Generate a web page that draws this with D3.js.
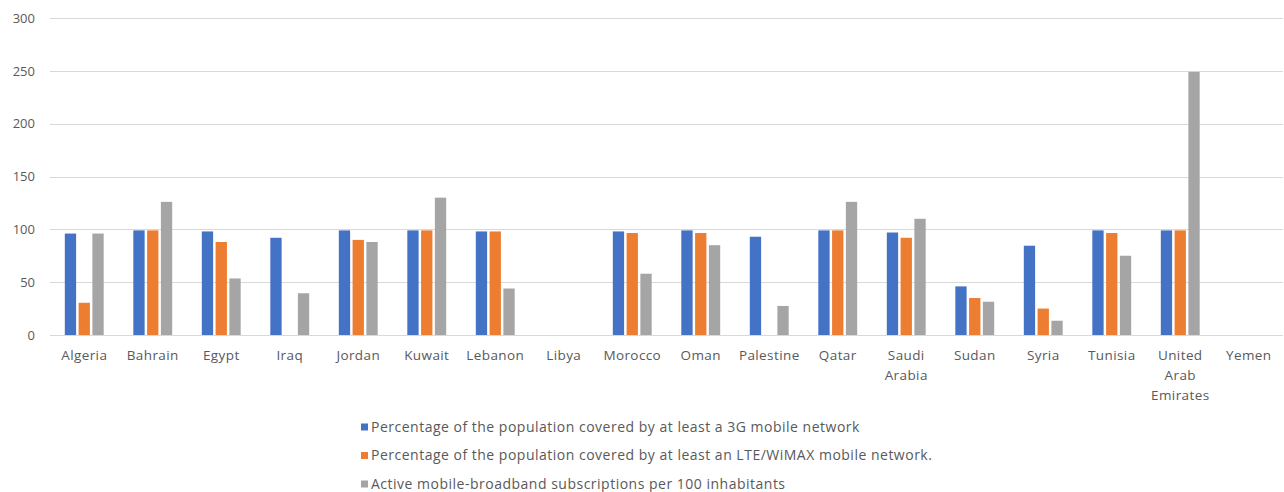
<!DOCTYPE html>
<html>
<head>
<meta charset="utf-8">
<script src="https://cdn.jsdelivr.net/npm/d3@7"></script>
<style>
  body { margin: 0; background: #fff; }
  svg { font-family: "Open Sans", Lato, sans-serif; }
</style>
</head>
<body>
<div id="chart"></div>
<script>
// categories and series
const countries = ["Algeria", "Bahrain", "Egypt", "Iraq", "Jordan", "Kuwait", "Lebanon", "Libya", "Morocco", "Oman",
  "Palestine", "Qatar", "Saudi Arabia", "Sudan", "Syria", "Tunisia", "United Arab Emirates", "Yemen"];
const cover3G = [96, 99, 98, 92, 99, 99, 98, 0, 98, 99, 93, 99, 97, 46, 84.5, 99, 99, 0];
const coverLTE = [30.5, 99, 88, 0, 90, 99, 98, 0, 96.5, 96.5, 0, 99, 92, 35, 25, 96.5, 99, 0];
const activeMB = [96, 126, 53.5, 39.5, 88, 130, 44, 0, 58, 85, 27.5, 126, 110, 31.5, 13.5, 75, 249, 0];
const seriesNames = [
  "Percentage of the population covered by at least a 3G mobile network",
  "Percentage of the population covered by at least an LTE/WiMAX mobile network.",
  "Active mobile-broadband subscriptions per 100 inhabitants"
];
const colors = ["#4472c4", "#ed7d31", "#a5a5a5"];
const yTicks = [0, 50, 100, 150, 200, 250, 300];

const W = 1284, H = 492;
const margin = { left: 50, right: 1, top: 18, bottom: 157 };

const svg = d3.select("#chart").append("svg").attr("width", W).attr("height", H);

const x0 = d3.scaleBand().domain(countries).range([margin.left, W - margin.right]).paddingInner(0.36).paddingOuter(0.18);
const keys = [0, 1, 2];
const x1 = d3.scaleBand().domain(keys).range([0, x0.bandwidth()]).padding(0.18);
const y = d3.scaleLinear().domain([0, 300]).range([H - margin.bottom, margin.top]);

// gridlines
svg.append("g").selectAll("line").data(yTicks).join("line")
  .attr("x1", margin.left).attr("x2", W - margin.right)
  .attr("y1", d => Math.round(y(d)) + 0.5).attr("y2", d => Math.round(y(d)) + 0.5)
  .attr("stroke", "#d9d9d9").attr("stroke-width", 1);

// y axis labels
const yAxis = d3.axisLeft(y).tickValues(yTicks).tickSize(0).tickPadding(0);
svg.append("g").attr("transform", `translate(${margin.left - 15},0)`).call(yAxis)
  .call(g => g.select(".domain").remove())
  .selectAll("text").attr("fill", "#595959").style("font-size", "13px")
  .style("font-family", "'Open Sans', sans-serif");

// bars
const data = countries.map((c, i) => ({ c, v: [cover3G[i], coverLTE[i], activeMB[i]] }));
svg.append("g").selectAll("g").data(data).join("g")
  .attr("transform", d => `translate(${x0(d.c)},0)`)
  .selectAll("rect").data(d => d.v.map((v, k) => ({ k, v }))).join("rect")
  .attr("x", d => x1(d.k)).attr("width", x1.bandwidth())
  .attr("y", d => y(d.v)).attr("height", d => y(0) - y(d.v))
  .attr("fill", d => colors[d.k]);

// x axis labels (wrapped)
const xAxis = d3.axisBottom(x0).tickSize(0).tickPadding(0);
const xg = svg.append("g").attr("transform", `translate(0,${y(0)})`).call(xAxis);
xg.select(".domain").remove();
xg.selectAll("text").each(function (d) {
  const t = d3.select(this);
  const words = d.split(" ");
  t.text(null).attr("y", 0).attr("dy", null);
  words.forEach((w, i) => t.append("tspan").attr("x", 0).attr("y", 25 + i * 20).text(w));
}).attr("fill", "#595959").style("font-size", "13.5px").style("letter-spacing", "0.4px")
  .style("font-family", "'Open Sans', sans-serif");

// legend
const leg = svg.append("g").selectAll("g").data(seriesNames).join("g")
  .attr("transform", (d, i) => `translate(361,${427 + i * 28.5})`);
leg.append("rect").attr("x", 0).attr("y", -3.5).attr("width", 7).attr("height", 7)
  .attr("fill", (d, i) => colors[i]);
leg.append("text").attr("x", 10).attr("dy", "0.35em").text(d => d)
  .attr("fill", "#595959").style("font-size", "14px").style("letter-spacing", "0.5px");
</script>
</body>
</html>
